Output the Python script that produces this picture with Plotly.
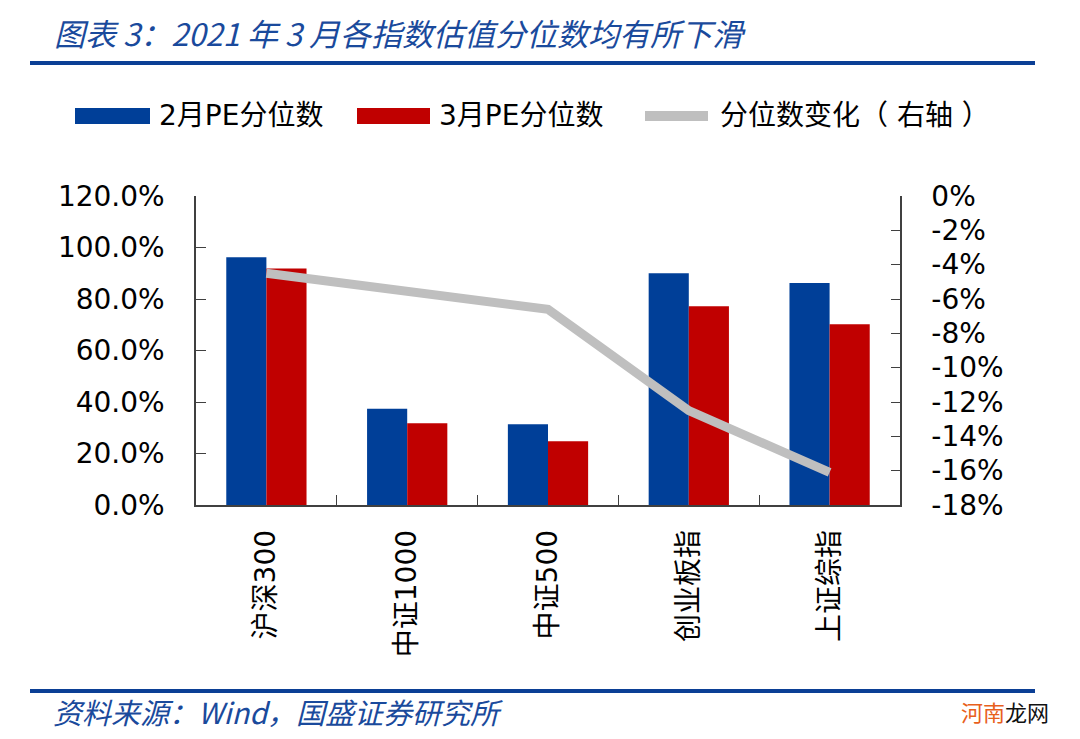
import plotly.graph_objects as go

categories = ["沪深300", "中证1000", "中证500", "创业板指", "上证综指"]
feb_pe = [0.962, 0.374, 0.314, 0.900, 0.862]
mar_pe = [0.918, 0.317, 0.248, 0.772, 0.702]
change = [-0.045, -0.056, -0.066, -0.125, -0.161]

left_tickvals = [0, 0.2, 0.4, 0.6, 0.8, 1.0, 1.2]
left_ticktext = ["0.0%", "20.0%", "40.0%", "60.0%", "80.0%", "100.0%", "120.0%"]
right_tickvals = [0, -0.02, -0.04, -0.06, -0.08, -0.10, -0.12, -0.14, -0.16, -0.18]
right_ticktext = ["0%", "-2%", "-4%", "-6%", "-8%", "-10%", "-12%", "-14%", "-16%", "-18%"]

series_names = ["2月PE分位数", "3月PE分位数", "分位数变化（ 右轴 ）"]
title_text = "图表 3：2021 年 3 月各指数估值分位数均有所下滑"
source_text = "资料来源：Wind，国盛证券研究所"

BLUE = "#003F98"
RED = "#C00000"
GRAY = "#BFBFBF"
TBLUE = "#1A4A9C"

# the page body adds an 8px margin; all design coordinates below are page pixels
OFF = 8
W, H = 1080 - 2 * OFF, 739 - 2 * OFF
PLOT_L, PLOT_R, PLOT_T, PLOT_B = 196, 900, 196, 505
L = PLOT_L - OFF
T = PLOT_T - OFF
R = W - (PLOT_R - OFF)
B = H - (PLOT_B - OFF)
PW = PLOT_R - PLOT_L
PH = PLOT_B - PLOT_T


def px(x):
    return (x - PLOT_L) / PW


def py(y):
    return (PLOT_B - y) / PH


NUMFONT = "DejaVu Sans, Noto Sans CJK SC, sans-serif"
CJKFONT = "Noto Sans CJK SC, sans-serif"

fig = go.Figure()
fig.add_trace(go.Bar(x=categories, y=feb_pe, name=series_names[0],
                     marker=dict(color=BLUE, line=dict(width=0))))
fig.add_trace(go.Bar(x=categories, y=mar_pe, name=series_names[1],
                     marker=dict(color=RED, line=dict(width=0))))
fig.add_trace(go.Scatter(x=categories, y=change, name=series_names[2], mode="lines",
                         line=dict(color=GRAY, width=9), yaxis="y2"))

shapes = []
annotations = []

# header / footer rules
shapes.append(dict(type="line", xref="paper", yref="paper", x0=px(30), x1=px(1035),
                   y0=py(63), y1=py(63), line=dict(color="#0B3F95", width=4)))
shapes.append(dict(type="line", xref="paper", yref="paper", x0=px(30), x1=px(1035),
                   y0=py(691), y1=py(691), line=dict(color="#0B3F95", width=4)))

annotations.append(dict(text="<i>" + title_text + "</i>", xref="paper", yref="paper",
                        x=px(52), y=py(32), xanchor="left", yanchor="middle", showarrow=False,
                        font=dict(family=CJKFONT, size=31, color=TBLUE)))
annotations.append(dict(text="<i>" + source_text + "</i>", xref="paper", yref="paper",
                        x=px(52), y=py(711), xanchor="left", yanchor="middle", showarrow=False,
                        borderpad=0,
                        font=dict(family=CJKFONT, size=29, color=TBLUE)))
annotations.append(dict(text="<span style='color:#E8601C'>河南</span>龙网", xref="paper", yref="paper",
                        x=px(1050), y=py(711), xanchor="right", yanchor="middle", showarrow=False,
                        borderpad=0,
                        font=dict(family=CJKFONT, size=22, color="#111111")))

# manual legend
LY = 116
shapes.append(dict(type="rect", xref="paper", yref="paper", x0=px(75), x1=px(150),
                   y0=py(LY - 8), y1=py(LY + 8), fillcolor=BLUE, line=dict(width=0)))
shapes.append(dict(type="rect", xref="paper", yref="paper", x0=px(357), x1=px(430),
                   y0=py(LY - 8), y1=py(LY + 8), fillcolor=RED, line=dict(width=0)))
shapes.append(dict(type="line", xref="paper", yref="paper", x0=px(645), x1=px(708),
                   y0=py(LY), y1=py(LY), line=dict(color=GRAY, width=10)))
for xpos, name in zip([157, 437, 718], series_names):
    annotations.append(dict(text=name, xref="paper", yref="paper", x=px(xpos), y=py(LY),
                            xanchor="left", yanchor="middle", showarrow=False,
                            font=dict(family=NUMFONT, size=28, color="#000000")))

fig.update_layout(
    width=W, height=H,
    margin=dict(l=L, r=R, t=T, b=B, pad=0),
    paper_bgcolor="white", plot_bgcolor="white",
    showlegend=False,
    barmode="group", bargap=0.43, bargroupgap=0,
    font=dict(family=NUMFONT, size=28, color="#000000"),
    xaxis=dict(type="category", showline=True, linecolor="#404040", linewidth=1.5,
               ticks="inside", tickson="boundaries", ticklen=10, tickcolor="#404040",
               tickangle=-90, showgrid=False, zeroline=False,
               tickfont=dict(family=NUMFONT, size=28), ticklabelstandoff=12),
    yaxis=dict(range=[0, 1.2], tickvals=left_tickvals, ticktext=left_ticktext,
               showline=True, linecolor="#404040", linewidth=1.5, ticks="inside",
               ticklen=10, tickcolor="#404040", showgrid=False, zeroline=False,
               tickfont=dict(family=NUMFONT, size=28), ticklabelstandoff=24),
    yaxis2=dict(range=[-0.18, 0], tickvals=right_tickvals, ticktext=right_ticktext,
                overlaying="y", side="right", showline=True, linecolor="#404040",
                linewidth=1.5, ticks="inside", ticklen=9, tickcolor="#404040",
                showgrid=False, zeroline=False,
                tickfont=dict(family=NUMFONT, size=28), ticklabelstandoff=24),
    shapes=shapes,
    annotations=annotations,
)

fig.write_html("out.html")
